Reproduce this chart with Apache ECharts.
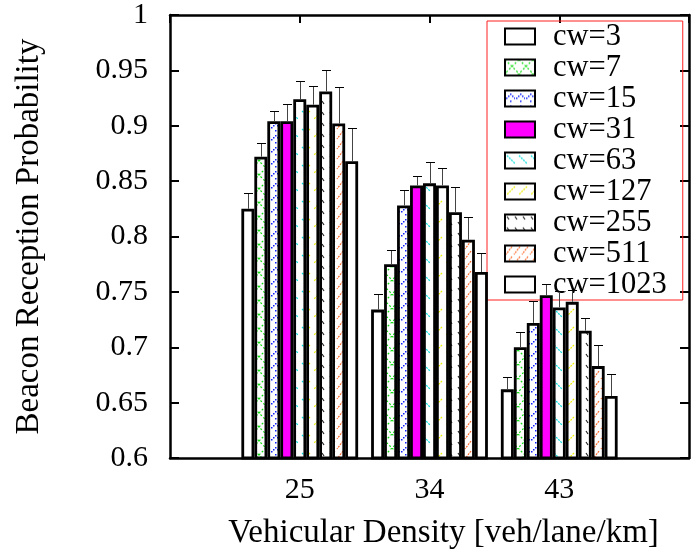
<!DOCTYPE html>
<html><head><meta charset="utf-8">
<script src="https://cdn.jsdelivr.net/npm/echarts@6/dist/echarts.min.js"></script>
<style>html,body{margin:0;padding:0;background:#fff}#c{width:692px;height:556px}</style>
</head><body><div id="c"></div>
<script>
const categories = ['25', '34', '43'];
const seriesNames = ['cw=3','cw=7','cw=15','cw=31','cw=63','cw=127','cw=255','cw=511','cw=1023'];
const cw3    = [0.825, 0.734, 0.662];
const cw7    = [0.872, 0.775, 0.700];
const cw15   = [0.904, 0.828, 0.722];
const cw31   = [0.904, 0.846, 0.747];
const cw63   = [0.924, 0.848, 0.736];
const cw127  = [0.919, 0.846, 0.741];
const cw255  = [0.931, 0.822, 0.715];
const cw511  = [0.902, 0.797, 0.683];
const cw1023 = [0.868, 0.768, 0.656];
const err3    = [0.014, 0.014, 0.011];
const err7    = [0.012, 0.013, 0.014];
const err15   = [0.009, 0.014, 0.020];
const err31   = [0.016, 0.009, 0.010];
const err63   = [0.016, 0.019, 0.015];
const err127  = [0.017, 0.016, 0.011];
const err255  = [0.019, 0.023, 0.011];
const err511  = [0.033, 0.021, 0.019];
const err1023 = [0.030, 0.017, 0.020];
const yTicks = [0.6, 0.65, 0.7, 0.75, 0.8, 0.85, 0.9, 0.95, 1];

const values = [cw3, cw7, cw15, cw31, cw63, cw127, cw255, cw511, cw1023];
const errors = [err3, err7, err15, err31, err63, err127, err255, err511, err1023];

function tile(w, h, draw) {
  const c = document.createElement('canvas');
  c.width = w; c.height = h;
  const g = c.getContext('2d');
  g.fillStyle = '#fff'; g.fillRect(0, 0, w, h);
  draw(g);
  return { image: c, repeat: 'repeat' };
}
function seg(g, col, pts, dash, lw) {
  g.strokeStyle = col; g.lineWidth = lw || 1.2;
  g.setLineDash(dash || []);
  g.beginPath(); g.moveTo(pts[0], pts[1]);
  for (let i = 2; i < pts.length; i += 2) g.lineTo(pts[i], pts[i + 1]);
  g.stroke();
}
const fills = [
  '#ffffff',
  tile(14, 14, g => { seg(g, '#11dd11', [0,0,7,7,0,14], [2,2]); seg(g, '#11dd11', [14,0,7,7,14,14], [2,2]); }),
  tile(10, 12, g => { g.fillStyle = '#1020ff'; [[1,7],[3,5],[5,3],[7,5],[9,7],[5,10]].forEach(p => g.fillRect(p[0], p[1], 1.5, 1.5)); }),
  '#ff00ff',
  tile(12, 18, g => { seg(g, '#00dddd', [2,3,10,11], [2,1]); }),
  tile(12, 18, g => { seg(g, '#eeee00', [10,3,2,11], [2,1]); }),
  tile(8, 11, g => { seg(g, '#222', [2,2,4,5]); }),
  tile(8, 10, g => { seg(g, '#ff6a2a', [7,1,1,9], [2,1]); }),
  '#ffffff'
];

const axisCats = [''].concat(categories, ['']);
const FONT = 'Liberation Serif';

const series = seriesNames.map((name, k) => ({
  name, type: 'bar', xAxisIndex: 0, yAxisIndex: 0,
  barWidth: '10%', barGap: '0%', z: 5,
  itemStyle: { color: fills[k], borderColor: '#000', borderWidth: 2.8 },
  data: [null].concat(values[k], [null])
}));

const errData = [];
values.forEach((arr, k) => arr.forEach((v, i) => errData.push([i + 1, k, v, v + errors[k][i]])));

series.push({
  type: 'custom', xAxisIndex: 0, yAxisIndex: 0, z: 6,
  encode: { x: 0, y: 2 },
  data: errData,
  renderItem(params, api) {
    const cat = api.value(0), k = api.value(1), v = api.value(2), t = api.value(3);
    const b = api.coord([cat, v]);
    const tp = api.coord([cat, t]);
    const band = api.coord([2, v])[0] - api.coord([1, v])[0];
    const x = Math.round(b[0] + (k - 4) * band * 0.1) + 0.5;
    const yt = Math.round(tp[1]) + 0.5;
    return { type: 'group', children: [
      { type: 'line', shape: { x1: x, y1: b[1], x2: x, y2: yt }, style: { stroke: '#444', lineWidth: 1 } },
      { type: 'line', shape: { x1: x - 4.5, y1: yt, x2: x + 4.5, y2: yt }, style: { stroke: '#000', lineWidth: 1 } }
    ]};
  }
});

const chart = echarts.init(document.getElementById('c'), null, { renderer: 'canvas' });
chart.setOption({
  backgroundColor: '#fff',
  animation: false,
  textStyle: { fontFamily: FONT },
  grid: { left: 170, top: 12, width: 531, height: 446, containLabel: false },
  legend: {
    data: seriesNames, orient: 'vertical', left: 487, top: 21, z: 1,
    padding: [0, 16, 0, 17], itemGap: 0, itemWidth: 30, itemHeight: 16,
    borderColor: '#ff2020', borderWidth: 1, icon: 'rect',
    textStyle: { fontFamily: FONT, fontSize: 30.5, color: '#000', lineHeight: 30, padding: [0, 0, 0, 13] }
  },
  xAxis: [{
    type: 'category', data: axisCats, boundaryGap: false, position: 'bottom',
    axisLine: { lineStyle: { color: '#000', width: 2.5 } },
    axisTick: { show: false },
    axisLabel: { color: '#000', fontSize: 30, fontFamily: FONT, margin: 17, interval: 0 },
    splitLine: { show: false },
    name: 'Vehicular Density [veh/lane/km]', nameLocation: 'middle', nameGap: 59,
    nameTextStyle: { color: '#000', fontSize: 33, fontFamily: FONT, padding: [0, 0, 0, 28] }
  }, {
    type: 'category', data: axisCats, boundaryGap: false, position: 'top',
    axisLine: { lineStyle: { color: '#000', width: 2.5 } },
    axisTick: { show: true, inside: true, length: 8, interval: 0, lineStyle: { color: '#000', width: 2 } },
    axisLabel: { show: false }, splitLine: { show: false }
  }],
  yAxis: [{
    type: 'value', min: yTicks[0], max: yTicks[yTicks.length - 1], interval: 0.05,
    axisLine: { show: true, lineStyle: { color: '#000', width: 2.5 } },
    axisTick: { show: true, inside: true, length: 9, lineStyle: { color: '#000', width: 2 } },
    axisLabel: { color: '#000', fontSize: 30, fontFamily: FONT, margin: 22 },
    splitLine: { show: false },
    name: 'Beacon Reception Probability', nameLocation: 'middle', nameGap: 124, nameRotate: 90,
    nameTextStyle: { color: '#000', fontSize: 33, fontFamily: FONT }
  }, {
    type: 'value', min: yTicks[0], max: yTicks[yTicks.length - 1], interval: 0.05, position: 'right',
    axisLine: { show: true, lineStyle: { color: '#000', width: 2.5 } },
    axisTick: { show: true, inside: true, length: 9, lineStyle: { color: '#000', width: 2 } },
    axisLabel: { show: false }, splitLine: { show: false }
  }],
  series
});
</script></body></html>
